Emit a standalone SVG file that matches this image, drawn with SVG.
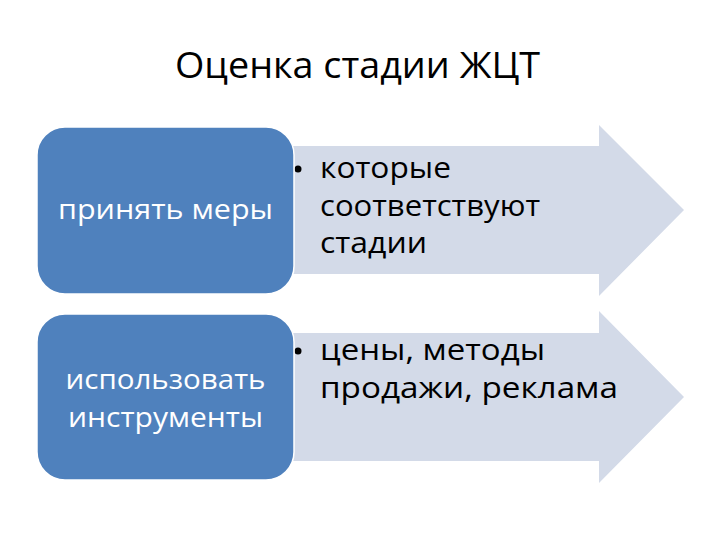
<svg xmlns="http://www.w3.org/2000/svg" width="720" height="540" viewBox="0 0 720 540">
<style>
.title{font-family:"Open Sans","Liberation Sans",sans-serif;font-size:36px;fill:#000}
.box{fill:#4F81BD;stroke:#FFFFFF;stroke-width:1.5}
.arrow{fill:#D3DAE8;stroke:none}
.lbl{font-family:"Open Sans","Liberation Sans",sans-serif;font-size:27px;fill:#FFFFFF;text-anchor:middle}
.txt{font-family:"Open Sans","Liberation Sans",sans-serif;font-size:29px;fill:#000}
.dot{fill:#000}
</style>
<rect width="720" height="540" fill="#FFFFFF"/>
<g id="title">
<text class="title" x="175" y="78" textLength="365" lengthAdjust="spacingAndGlyphs">Оценка стадии ЖЦТ</text>
</g>
<g id="arrow1">
<polygon class="arrow" points="200,146 599,146 599,125 684,210 599,296 599,274 200,274"/>
<circle class="dot" cx="298" cy="169" r="3.5"/>
<text class="txt" x="320" y="178" textLength="131" lengthAdjust="spacingAndGlyphs">которые</text>
<text class="txt" x="320" y="216" textLength="220" lengthAdjust="spacingAndGlyphs">соответствуют</text>
<text class="txt" x="320" y="253" textLength="107" lengthAdjust="spacingAndGlyphs">стадии</text>
</g>
<g id="node1">
<rect class="box" x="37" y="127" width="257" height="167" rx="28" ry="28"/>
<text class="lbl" x="165.5" y="219" textLength="215" lengthAdjust="spacingAndGlyphs">принять меры</text>
</g>
<g id="arrow2">
<polygon class="arrow" points="200,333 599,333 599,311 684,397 599,483 599,461 200,461"/>
<circle class="dot" cx="298" cy="351" r="3.5"/>
<text class="txt" x="320" y="360" textLength="225" lengthAdjust="spacingAndGlyphs">цены, методы</text>
<text class="txt" x="320" y="398" textLength="298" lengthAdjust="spacingAndGlyphs">продажи, реклама</text>
</g>
<g id="node2">
<rect class="box" x="37" y="314" width="257" height="166" rx="28" ry="28"/>
<text class="lbl" x="165.5" y="389" textLength="200" lengthAdjust="spacingAndGlyphs">использовать</text>
<text class="lbl" x="165.5" y="427" textLength="195" lengthAdjust="spacingAndGlyphs">инструменты</text>
</g>
</svg>
